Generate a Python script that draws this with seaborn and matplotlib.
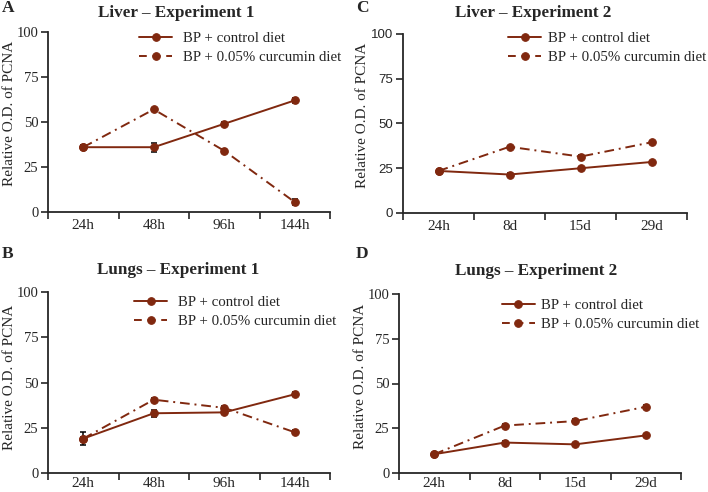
import numpy as np
import pandas as pd
import matplotlib
matplotlib.use("Agg")
import matplotlib.pyplot as plt
import seaborn as sns

# Data
hours_exp1 = ["24h", "48h", "96h", "144h"]
days_exp2 = ["24h", "8d", "15d", "29d"]

liver1_control = [36, 36, 49, 62]
liver1_curcumin = [36, 57, 34, 5.5]
liver1_control_err = [1, 2.5, 1, 1.5]
liver1_curcumin_err = [1, 1, 1, 1.5]

lungs1_control = [19, 33, 33.5, 43.5]
lungs1_curcumin = [19, 40.5, 36, 22.5]
lungs1_control_err = [3.5, 2, 1, 1]
lungs1_curcumin_err = [1, 1, 1, 1]

liver2_control = [23.5, 21.5, 25, 28.5]
liver2_curcumin = [23.5, 37, 31.5, 39.5]
liver2_control_err = [0.7, 0.7, 0.7, 0.7]
liver2_curcumin_err = [0.7, 0.7, 0.7, 0.7]

lungs2_control = [10.5, 17, 16, 21]
lungs2_curcumin = [10.5, 26.5, 29, 37]
lungs2_control_err = [0.7, 0.7, 0.7, 0.7]
lungs2_curcumin_err = [0.7, 1, 1, 1]

series_names = ["BP + control diet", "BP + 0.05% curcumin diet"]
yticks = [0, 25, 50, 75, 100]

COLOR = "#80280f"
SERIF = "Liberation Serif"

sns.set_theme(style="ticks")
plt.rcParams["font.family"] = [SERIF, "DejaVu Serif"]
plt.rcParams["axes.linewidth"] = 1.3


def draw_panel(ax, labels, control, curcumin, control_err, curcumin_err,
               label_pos, legend_pos, text_pad=0.75, xpad=5,
               sans_yticks=False):
    """Draw one line panel with both diet groups."""
    n = len(labels)
    df = pd.DataFrame({
        "pos": list(range(n)) * 2,
        "value": list(control) + list(curcumin),
        "err": list(control_err) + list(curcumin_err),
        "group": [series_names[0]] * n + [series_names[1]] * n,
    })

    sns.lineplot(data=df, x="pos", y="value", style="group",
                 style_order=series_names,
                 dashes={series_names[0]: "", series_names[1]: (5, 2.5, 1, 2.5)},
                 markers={series_names[0]: "o", series_names[1]: "o"},
                 color=COLOR, linewidth=1.4, markersize=5.5,
                 markeredgecolor=COLOR, ax=ax)

    ax.errorbar(df["pos"], df["value"], yerr=df["err"], fmt="none",
                ecolor="black", elinewidth=1.1, capsize=2.5, capthick=1.1,
                zorder=1)

    ax.set_xlim(-0.5, n - 0.5)
    ax.set_ylim(0, 100)
    ax.set_xticks(np.arange(n + 1) - 0.5)
    ax.set_xticklabels([])
    ax.set_xticks(np.arange(n), minor=True)
    ax.set_xticklabels(labels, minor=True, fontsize=11)
    ax.tick_params(axis="x", which="major", length=5, width=1.2, direction="out")
    ax.tick_params(axis="x", which="minor", length=0, pad=xpad)
    ax.set_yticks(yticks)
    if sans_yticks:
        ax.set_yticklabels([str(t) for t in yticks], fontsize=9.5,
                           family="Liberation Sans")
    else:
        ax.set_yticklabels([str(t) for t in yticks], fontsize=10.5)
    ax.tick_params(axis="y", length=5, width=1.2, direction="out", pad=2)
    ax.set_xlabel("")
    ax.set_ylabel("Relative O.D. of PCNA", fontsize=11)
    ax.yaxis.set_label_coords(*label_pos)
    sns.despine(ax=ax)

    handles, _ = ax.get_legend_handles_labels()
    handles[1].set_linestyle((0, (4, 3)))
    ax.legend(handles, series_names, loc="upper left",
              bbox_to_anchor=legend_pos, frameon=False, fontsize=10.7,
              borderaxespad=0, borderpad=0,
              handlelength=2.2, handletextpad=text_pad, labelspacing=0.4)


fig = plt.figure(figsize=(7.08, 4.92), dpi=100)
W, H = 708.0, 492.0


def add_axes(left, top, right, bottom):
    return fig.add_axes([left / W, 1 - bottom / H, (right - left) / W,
                         (bottom - top) / H])


ax_a = add_axes(48, 32, 330, 212)
ax_c = add_axes(403, 34, 687, 213)
ax_b = add_axes(48, 292, 330, 473)
ax_d = add_axes(399, 294, 681, 473)

draw_panel(ax_a, hours_exp1, liver1_control, liver1_curcumin,
           liver1_control_err, liver1_curcumin_err,
           label_pos=(-0.112, 0.547), legend_pos=(0.324, 1.003))
draw_panel(ax_c, days_exp2, liver2_control, liver2_curcumin,
           liver2_control_err, liver2_curcumin_err,
           label_pos=(-0.12, 0.547), legend_pos=(0.371, 1.013),
           text_pad=0.45, sans_yticks=True)
draw_panel(ax_b, hours_exp1, lungs1_control, lungs1_curcumin,
           lungs1_control_err, lungs1_curcumin_err,
           label_pos=(-0.112, 0.528), legend_pos=(0.306, 0.98), xpad=3)
draw_panel(ax_d, days_exp2, lungs2_control, lungs2_curcumin,
           lungs2_control_err, lungs2_curcumin_err,
           label_pos=(-0.112, 0.539), legend_pos=(0.365, 0.975),
           text_pad=0.45, xpad=3)

# Panel titles and letters
titles = [
    (176, 13, "Liver \u2013 Experiment 1"),
    (533, 13, "Liver \u2013 Experiment 2"),
    (178, 270, "Lungs \u2013 Experiment 1"),
    (536, 271, "Lungs \u2013 Experiment 2"),
]
for x, y, text in titles:
    fig.text(x / W, 1 - y / H, text, ha="center", va="center",
             fontsize=12.3, fontweight="bold")

letters = [(2, 8, "A"), (356, 8, "C"), (2, 254, "B"), (356, 254, "D")]
for x, y, text in letters:
    fig.text(x / W, 1 - y / H, text, ha="left", va="center",
             fontsize=12.5, fontweight="bold")

fig.savefig("out.png", dpi=100)
